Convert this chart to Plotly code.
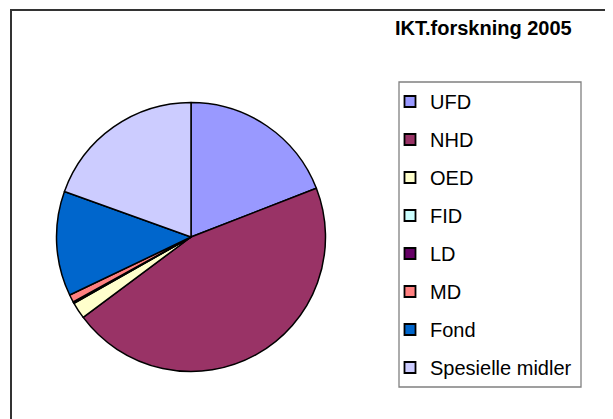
import plotly.graph_objects as go

labels = ["UFD", "NHD", "OED", "FID", "LD", "MD", "Fond", "Spesielle midler"]
values = [19.1, 45.7, 2.0, 0.1, 0.1, 0.9, 12.6, 19.5]
colors = ["#9999FF", "#993366", "#FFFFCC", "#CCFFFF", "#660066", "#FF8080", "#0066CC", "#CCCCFF"]
title_text = "IKT.forskning 2005"

W, H = 613, 419
OFF = 8  # page body margin offset


def px(x):
    return (x - OFF) / W


def py(y):
    return 1 - (y - OFF) / H


cx, cy, r = 191, 237, 134.5

fig = go.Figure()
fig.add_trace(go.Pie(
    labels=labels, values=values, sort=False, direction="clockwise", rotation=0,
    marker=dict(colors=colors, line=dict(color="black", width=1.5)),
    textinfo="none", hoverinfo="label+percent", showlegend=False,
    domain=dict(x=[px(cx - r), px(cx + r)], y=[py(cy + r), py(cy - r)]),
))

# legend entries (one group each so the spacing matches)
for i, (lab, col) in enumerate(zip(labels, colors)):
    fig.add_trace(go.Scatter(
        x=[None], y=[None], mode="markers", name=lab, legendgroup=f"g{i}",
        marker=dict(symbol="square", size=11, color=col, line=dict(color="black", width=1.8)),
    ))

fig.update_layout(
    width=W, height=H,
    margin=dict(l=0, r=0, t=0, b=0),
    paper_bgcolor="white", plot_bgcolor="white",
    xaxis=dict(visible=False), yaxis=dict(visible=False),
    font=dict(family="Arial", color="black"),
    legend=dict(
        x=px(390), y=py(82), xanchor="left", yanchor="top",
        borderwidth=0, bgcolor="rgba(0,0,0,0)",
        font=dict(family="Arial", size=20, color="black"),
        tracegroupgap=9, traceorder="grouped",
    ),
    annotations=[dict(
        text=f"<b>{title_text}</b>", x=px(483), y=py(28), xref="paper", yref="paper",
        xanchor="center", yanchor="middle", showarrow=False,
        font=dict(family="Arial", size=20, color="black"),
    )],
    shapes=[
        dict(type="rect", xref="paper", yref="paper",
             x0=px(11), x1=1.05, y0=-0.05, y1=py(10),
             line=dict(color="#333333", width=2)),
        dict(type="rect", xref="paper", yref="paper", layer="below",
             x0=px(399), x1=px(581), y0=py(387), y1=py(82),
             line=dict(color="#808080", width=1.3), fillcolor="white"),
    ],
)

fig.write_html("out.html")
